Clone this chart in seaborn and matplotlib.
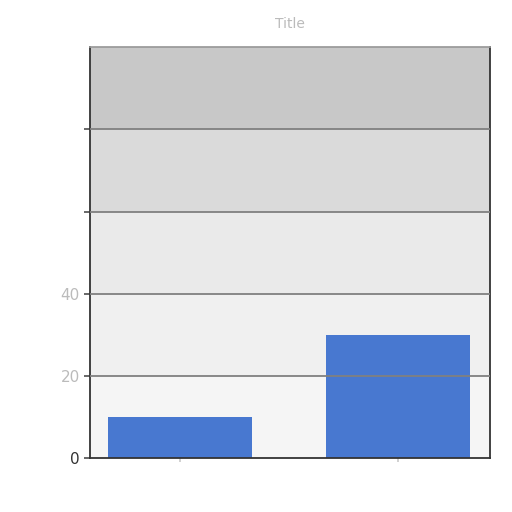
import numpy as np
import pandas as pd
import matplotlib
matplotlib.use("Agg")
import matplotlib.pyplot as plt
import seaborn as sns

categories = ["A", "B"]
values = [10, 30]
y_ticks = [0, 20, 40, 60, 80]
y_tick_labels = ["0", "20", "40", "", ""]
y_max = 100
title = "Title"

# shading of the background bands, bottom to top
band_colors = ["#f5f5f5", "#f0f0f0", "#eaeaea", "#dadada", "#c8c8c8"]

sns.set_theme(style="white")
plt.rcParams['font.family'] = ['DejaVu Sans']

df = pd.DataFrame({"category": categories, "value": values})

fig = plt.figure(figsize=(5.12, 5.12), dpi=100)
ax = fig.add_axes([0.176, 0.105, 0.781, 0.803])

band_edges = y_ticks + [y_max]
for i, c in enumerate(band_colors):
    ax.axhspan(band_edges[i], band_edges[i + 1], color=c, zorder=0, lw=0)

sns.barplot(data=df, x="category", y="value", color="#4878d0", width=0.66,
            saturation=1, linewidth=0, ax=ax, zorder=2)

for y in y_ticks[1:]:
    ax.axhline(y, color="#808080", lw=1.3, zorder=3)

ax.set_xlim(-0.41, 1.42)
ax.set_ylim(0, y_max)
ax.set_yticks(y_ticks)
ax.set_yticklabels(y_tick_labels)
for lbl, col in zip(ax.get_yticklabels(), ["#333333", "#bbbbbb", "#bbbbbb", "#bbbbbb", "#bbbbbb"]):
    lbl.set_color(col)
ax.set_xticklabels(["", ""])
ax.set_xlabel("")
ax.set_ylabel("")
ax.tick_params(axis="y", left=True, length=4, color="#555555", labelsize=11)
ax.tick_params(axis="x", bottom=True, length=3, color="#cccccc")

for side in ["left", "bottom", "right"]:
    ax.spines[side].set_color("#333333")
    ax.spines[side].set_linewidth(1.3)
ax.spines["top"].set_color("#999999")

ax.set_title(title, color="#bbbbbb", fontsize=10, pad=14)

fig.savefig("out.png", dpi=100)
